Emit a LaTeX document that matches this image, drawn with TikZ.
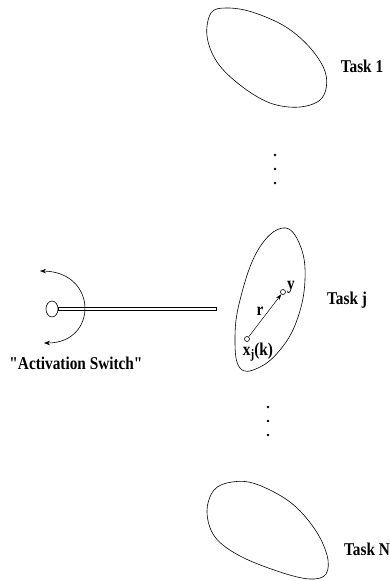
\documentclass[tikz,border=0pt]{standalone}
\usepackage{fontspec}
\setmainfont{Liberation Serif}
\newfontfamily\lblfont[FakeStretch=0.85]{Liberation Serif Bold}
\usetikzlibrary{shapes.geometric,arrows.meta,calc}
\begin{document}
\begin{tikzpicture}[x=1pt,y=-1pt,
  lbl/.style={inner sep=0pt,font=\lblfont\fontsize{18}{20}\selectfont},
  blob/.style={draw,line width=0.6pt},
  pdot/.style={circle,fill=black,inner sep=0pt,minimum size=2.6pt},
  pnt/.style={circle,draw,fill=white,inner sep=0pt,minimum size=5pt,line width=0.6pt}]
\useasboundingbox (0,0) rectangle (390,581);
% Task 1
\draw[blob] plot[smooth cycle,tension=0.6] coordinates {(211,13) (226,8) (252,12) (286,27) (312,50) (326,75) (322,98) (300,107) (270,103) (240,85) (217,62) (207,36)};
\node[lbl] (t1) at (362,66) {Task 1};
% dots upper
\node[pdot] (d1) at (275,155) {};
\node[pdot] (d2) at (275,169) {};
\node[pdot] (d3) at (275,183) {};
% Task j
\draw[blob] plot[smooth cycle,tension=0.7] coordinates {(283,228) (300,245) (305,280) (297,320) (280,350) (258,368) (240,368) (235,340) (240,300) (258,250)};
\node[lbl] (tj) at (347,300) {Task j};
\node[pnt] (py) at (283,292) {};
\node[pnt] (px) at (247,339) {};
\draw[line width=0.5pt,-{Stealth[length=6pt,width=4pt]}] (px) -- (py);
\node[lbl,anchor=south west] (ly) at (287,294) {y};
\node[lbl] (lr) at (260,311) {r};
\node[lbl,anchor=north] (lx) at (258,343) {x\raisebox{-0.35ex}{\fontsize{13}{14}\selectfont j}(k)};
% dots lower
\node[pdot] (d4) at (268,407) {};
\node[pdot] (d5) at (268,421) {};
\node[pdot] (d6) at (268,435) {};
% Task N
\draw[blob] plot[smooth cycle,tension=0.6] coordinates {(214,490) (232,482) (256,484) (290,502) (314,528) (327,555) (326,574) (310,579) (280,572) (240,556) (215,537) (207,512)};
\node[lbl] (tN) at (367,549) {Task N};
% activation switch
\node[draw,ellipse,minimum width=12pt,minimum height=16pt,inner sep=0pt,line width=0.6pt] (knob) at (52,309) {};
\coordinate (rodend) at (216,308.5);
\draw[line width=0.6pt] ($(knob.east |- rodend)+(0,-1.6)$) rectangle ($(rodend)+(0,1.6)$);
\draw[line width=0.6pt,{Stealth[length=6pt,width=4.5pt]}-{Stealth[length=6pt,width=4.5pt]}] (40,271) .. controls (98,272) and (98,343) .. (44,343);
\node[lbl] (as) at (76,363) {"Activation Switch"};
\end{tikzpicture}
\end{document}
